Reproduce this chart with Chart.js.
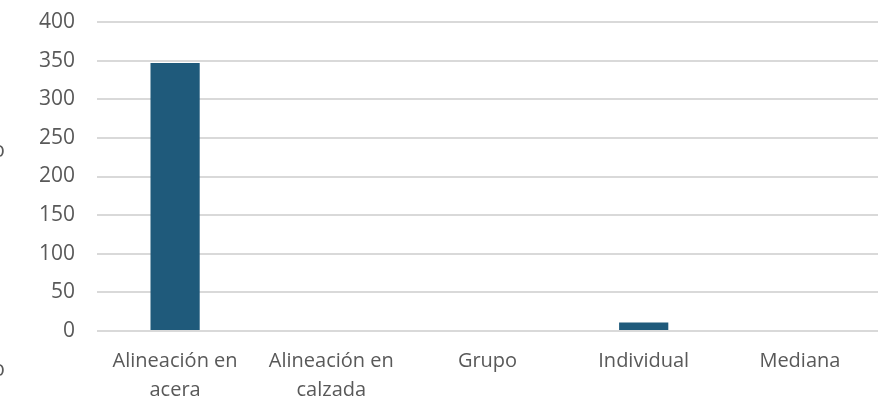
<!DOCTYPE html>
<html>
<head>
<meta charset="utf-8">
<script src="https://cdn.jsdelivr.net/npm/chart.js@4.4.3/dist/chart.umd.min.js"></script>
<style>
  html, body { margin: 0; padding: 0; background: #fff; }
  #wrap { width: 896px; height: 403px; }
</style>
</head>
<body>
<div id="wrap"><canvas id="chart"></canvas></div>
<script>
// values
const categories = [["Alineación en", "acera"], ["Alineación en", "calzada"], "Grupo", "Individual", "Mediana"];
const counts = [347, 0, 0, 11, 0];
const yTicks = [0, 50, 100, 150, 200, 250, 300, 350, 400];

const textGrey = "#595959";
const gridGrey = "#d9d9d9";

// bits of an axis title that sit outside the picture on the left
const cutTitle = {
    id: "cutTitle",
    afterDraw(chart) {
        const ctx = chart.ctx;
        ctx.save();
        ctx.fillStyle = textGrey;
        ctx.font = "21px 'Open Sans'";
        ctx.textAlign = "right";
        ctx.textBaseline = "middle";
        ctx.fillText("o", 5, 151);
        ctx.fillText("o", 5, 370);
        ctx.restore();
    }
};

new Chart(document.getElementById("chart"), {
    type: "bar",
    data: {
        labels: categories,
        datasets: [{
            data: counts,
            backgroundColor: "#1f5a7b",
            categoryPercentage: 1,
            barPercentage: 0.315
        }]
    },
    options: {
        responsive: true,
        maintainAspectRatio: false,
        animation: false,
        layout: { padding: { left: 0, right: 18, top: 22, bottom: 0 } },
        plugins: {
            legend: { display: false },
            tooltip: { enabled: false }
        },
        scales: {
            x: {
                grid: { display: false, drawTicks: false },
                border: { display: false },
                ticks: {
                    color: textGrey,
                    font: { family: "'Open Sans'", size: 20, lineHeight: 1.45 },
                    padding: 16,
                    maxRotation: 0,
                    autoSkip: false
                },
                afterFit(scale) { scale.height = 403 - 331; }
            },
            y: {
                min: 0,
                max: 400,
                afterBuildTicks(scale) { scale.ticks = yTicks.map(v => ({ value: v })); },
                grid: { color: gridGrey, lineWidth: 2, drawTicks: false },
                border: { display: false },
                ticks: {
                    color: textGrey,
                    font: { family: "'Open Sans'", size: 21 },
                    padding: 22
                },
                afterFit(scale) {
                    scale.width = 97;
                    scale.paddingTop = 0;
                    scale.paddingBottom = 0;
                }
            }
        }
    },
    plugins: [cutTitle]
});
</script>
</body>
</html>
